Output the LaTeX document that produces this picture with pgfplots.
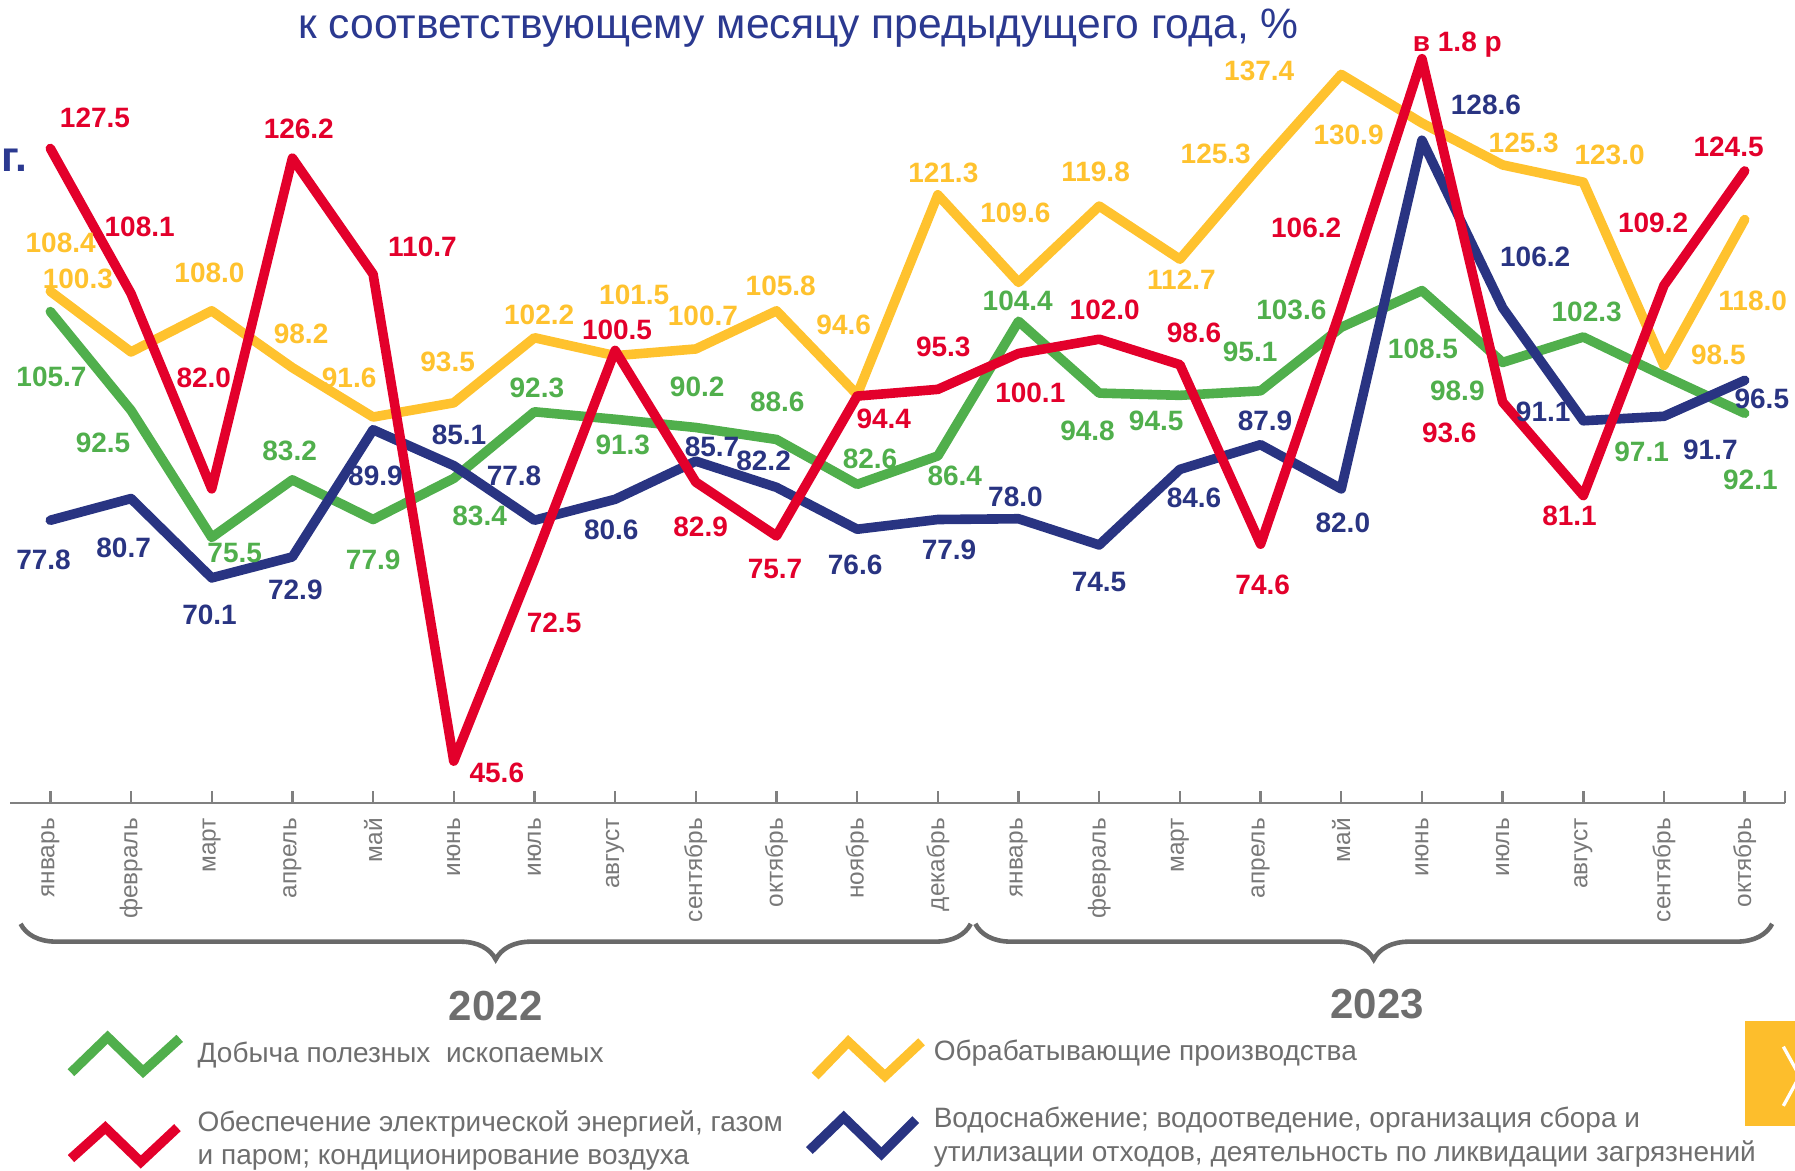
\documentclass[border=0pt]{standalone}
\usepackage{fontspec}
\setmainfont{Liberation Sans}
\usepackage{pgfplots}
\pgfplotsset{compat=1.18}
\usepackage{pgfplotstable}
\usetikzlibrary{decorations.pathreplacing}

\definecolor{cgreen}{RGB}{80,175,76}
\definecolor{cyellow}{RGB}{255,194,46}
\definecolor{cred}{RGB}{227,0,43}
\definecolor{cblue}{RGB}{41,52,130}
\definecolor{cgray}{RGB}{110,110,110}
\definecolor{cmonth}{RGB}{120,120,120}
\definecolor{caxis}{RGB}{128,128,128}
\definecolor{ctitle}{RGB}{43,57,144}
\definecolor{cbrace}{RGB}{105,105,105}
\definecolor{cbox}{RGB}{253,190,44}

\newcommand\vfont{\fontsize{7}{8.4}\selectfont\bfseries}
\newcommand\monthfont{\fontsize{6.1}{7}\selectfont}
\newcommand\legfont{\fontsize{7}{8.4}\selectfont}
\newcommand\titlefont{\fontsize{10.65}{12.8}\selectfont}
\newcommand\yearfont{\fontsize{10.5}{12.6}\selectfont\bfseries}
\newcommand\vl[4]{\node[text=#1,font=\vfont,inner sep=0pt] at (#2,#3) {#4};}

\pgfplotstableread{
x green yellow red blue
0 105.7 108.4 127.5 77.8
1 92.5 100.3 108.1 80.7
2 75.5 105.8 82.0 70.1
3 83.2 98.2 126.2 72.9
4 77.9 91.6 110.7 89.9
5 83.4 93.5 45.6 85.1
6 92.3 102.2 72.5 77.8
7 91.3 99.8 100.5 80.6
8 90.2 100.7 82.9 85.7
9 88.6 105.8 75.7 82.2
10 82.6 94.6 94.4 76.6
11 86.4 121.3 95.3 77.9
12 104.4 109.6 100.1 78.0
13 94.8 119.8 102.0 74.5
14 94.5 112.7 98.6 84.6
15 95.1 125.3 74.6 87.9
16 103.6 137.4 106.2 82.0
17 108.5 130.9 139.5 128.6
18 98.9 125.3 93.6 106.2
19 102.3 123.0 81.1 91.1
20 97.1 98.5 109.2 91.7
21 92.1 118.0 124.5 96.5
}\datatable

\begin{document}
\begin{tikzpicture}
\useasboundingbox (0,0) rectangle (448.75pt,292.5pt);
\clip (0,0) rectangle (448.75pt,292.5pt);
\begin{axis}[
  at={(2.5pt,91.75pt)}, anchor=south west,
  scale only axis, width=443.75pt, height=200.75pt,
  xmin=-0.5, xmax=21.5, ymin=40, ymax=147.35,
  axis x line=bottom, axis y line=none,
  x axis line style={-, draw=caxis, line width=0.6pt},
  every outer x axis line/.append style={-},
  xtick={0,...,21},
  xticklabels={январь,февраль,март,апрель,май,июнь,июль,август,сентябрь,октябрь,ноябрь,декабрь,январь,февраль,март,апрель,май,июнь,июль,август,сентябрь,октябрь},
  extra x ticks={21.5}, extra x tick labels={},
  tick align=inside, major tick length=2.9pt,
  xtick style={draw=caxis, line width=0.6pt},
  xticklabel style={rotate=90, anchor=east, inner sep=0pt, font=\monthfont, text=cmonth},
  xticklabel shift=3.6pt,
  ytick=\empty,
]
\addplot[cgreen, line width=2.4pt, line join=round, line cap=round, mark=none] table[x=x,y=green]{\datatable};
\addplot[cyellow, line width=2.4pt, line join=round, line cap=round, mark=none] table[x=x,y=yellow]{\datatable};
\addplot[cblue, line width=2.4pt, line join=round, line cap=round, mark=none] table[x=x,y=blue]{\datatable};
\addplot[cred, line width=2.4pt, line join=round, line cap=round, mark=none] table[x=x,y=red]{\datatable};
\end{axis}

\begin{scope}[x=0.28619pt,y=-0.28619pt,shift={(0pt,292.5pt)}]
% title
\node[anchor=base, text=ctitle, font=\titlefont, inner sep=0pt] at (697.5,33.5) {к соответствующему месяцу предыдущего года, \%};
\node[anchor=base west, text=ctitle, font=\titlefont\bfseries, inner sep=0pt] at (1,150) {г.};
% red labels
\vl{cred}{83}{103}{127.5}
\vl{cred}{122}{198}{108.1}
\vl{cred}{178}{330}{82.0}
\vl{cred}{261}{113}{126.2}
\vl{cred}{369}{216}{110.7}
\vl{cred}{434}{675}{45.6}
\vl{cred}{484}{544}{72.5}
\vl{cred}{539}{288}{100.5}
\vl{cred}{612}{460}{82.9}
\vl{cred}{677}{497}{75.7}
\vl{cred}{772}{366}{94.4}
\vl{cred}{824}{303}{95.3}
\vl{cred}{900}{343}{100.1}
\vl{cred}{965}{271}{102.0}
\vl{cred}{1043}{291}{98.6}
\vl{cred}{1103}{511}{74.6}
\vl{cred}{1141}{199}{106.2}
\node[anchor=base, text=cred, font=\vfont, inner sep=0pt] at (1273,45) {в 1.8 р};
\vl{cred}{1266}{378}{93.6}
\vl{cred}{1371}{451}{81.1}
\vl{cred}{1444}{195}{109.2}
\vl{cred}{1510}{128}{124.5}
% yellow labels
\vl{cyellow}{53}{212}{108.4}
\vl{cyellow}{68}{244}{100.3}
\vl{cyellow}{183}{238}{108.0}
\vl{cyellow}{263}{292}{98.2}
\vl{cyellow}{305}{330}{91.6}
\vl{cyellow}{391}{316}{93.5}
\vl{cyellow}{471}{275}{102.2}
\vl{cyellow}{554}{258}{101.5}
\vl{cyellow}{614}{276}{100.7}
\vl{cyellow}{682}{250}{105.8}
\vl{cyellow}{737}{284}{94.6}
\vl{cyellow}{824}{151}{121.3}
\vl{cyellow}{887}{186}{109.6}
\vl{cyellow}{957}{150}{119.8}
\vl{cyellow}{1032}{244}{112.7}
\vl{cyellow}{1062}{134}{125.3}
\vl{cyellow}{1100}{62}{137.4}
\vl{cyellow}{1178}{118}{130.9}
\vl{cyellow}{1331}{125}{125.3}
\vl{cyellow}{1406}{135}{123.0}
\vl{cyellow}{1501}{310}{98.5}
\vl{cyellow}{1531}{263}{118.0}
% green labels
\vl{cgreen}{45}{329}{105.7}
\vl{cgreen}{90}{387}{92.5}
\vl{cgreen}{205}{483}{75.5}
\vl{cgreen}{253}{394}{83.2}
\vl{cgreen}{326}{489}{77.9}
\vl{cgreen}{419}{451}{83.4}
\vl{cgreen}{469}{339}{92.3}
\vl{cgreen}{544}{389}{91.3}
\vl{cgreen}{609}{338}{90.2}
\vl{cgreen}{679}{351}{88.6}
\vl{cgreen}{760}{401}{82.6}
\vl{cgreen}{834}{416}{86.4}
\vl{cgreen}{889}{263}{104.4}
\vl{cgreen}{950}{376}{94.8}
\vl{cgreen}{1010}{368}{94.5}
\vl{cgreen}{1092}{307}{95.1}
\vl{cgreen}{1128}{271}{103.6}
\vl{cgreen}{1243}{305}{108.5}
\vl{cgreen}{1273}{341}{98.9}
\vl{cgreen}{1386}{272}{102.3}
\vl{cgreen}{1434}{395}{97.1}
\vl{cgreen}{1529}{419}{92.1}
% blue labels
\vl{cblue}{38}{489}{77.8}
\vl{cblue}{108}{479}{80.7}
\vl{cblue}{183}{537}{70.1}
\vl{cblue}{258}{515}{72.9}
\vl{cblue}{328}{416}{89.9}
\vl{cblue}{401}{380}{85.1}
\vl{cblue}{449}{416}{77.8}
\vl{cblue}{534}{463}{80.6}
\vl{cblue}{622}{390}{85.7}
\vl{cblue}{667}{403}{82.2}
\vl{cblue}{747}{493}{76.6}
\vl{cblue}{829}{480}{77.9}
\vl{cblue}{887}{434}{78.0}
\vl{cblue}{960}{508}{74.5}
\vl{cblue}{1043}{435}{84.6}
\vl{cblue}{1105}{368}{87.9}
\vl{cblue}{1173}{457}{82.0}
\vl{cblue}{1298}{92}{128.6}
\vl{cblue}{1341}{224}{106.2}
\vl{cblue}{1348}{360}{91.1}
\vl{cblue}{1494}{393}{91.7}
\vl{cblue}{1539}{348}{96.5}
% braces
\draw[decorate, decoration={brace, amplitude=8.9pt}, draw=cbrace, line width=1.15pt] (848,807) -- (18,807);
\draw[decorate, decoration={brace, amplitude=8.9pt}, draw=cbrace, line width=1.15pt] (1548,807) -- (852,807);
\node[text=cgray, font=\yearfont, inner sep=0pt] at (433,879) {2022};
\node[text=cgray, font=\yearfont, inner sep=0pt] at (1203,877) {2023};
% legend
\draw[cgreen, line width=2.4pt, line join=miter] (62,937) -- (94,906) -- (125,936) -- (157,907);
\draw[cred, line width=2.4pt, line join=miter] (62,1012) -- (92,985) -- (123,1015) -- (155,985);
\draw[cyellow, line width=2.4pt, line join=miter] (712,940) -- (741,910) -- (773,940) -- (805,910);
\draw[cblue, line width=2.4pt, line join=miter] (707,1005) -- (737,976) -- (770,1008) -- (800,978);
\node[anchor=base west, text=cgray, font=\legfont, inner sep=0pt] at (172,928) {Добыча полезных\ \ ископаемых};
\node[anchor=base west, text=cgray, font=\legfont, inner sep=0pt] at (172,988) {Обеспечение электрической энергией, газом};
\node[anchor=base west, text=cgray, font=\legfont, inner sep=0pt] at (172,1017) {и паром; кондиционирование воздуха};
\node[anchor=base west, text=cgray, font=\legfont, inner sep=0pt] at (815,926) {Обрабатывающие производства};
\node[anchor=base west, text=cgray, font=\legfont, inner sep=0pt] at (815,985) {Водоснабжение; водоотведение, организация сбора и};
\node[anchor=base west, text=cgray, font=\legfont, inner sep=0pt] at (815,1015) {утилизации отходов, деятельность по ликвидации загрязнений};
% yellow navigation box
\fill[cbox] (1524,892) rectangle (1572,983.5);
\draw[white, line width=0.83pt] (1557.8,914.3) -- (1572,940) -- (1557.8,966);
\end{scope}
\end{tikzpicture}
\end{document}
